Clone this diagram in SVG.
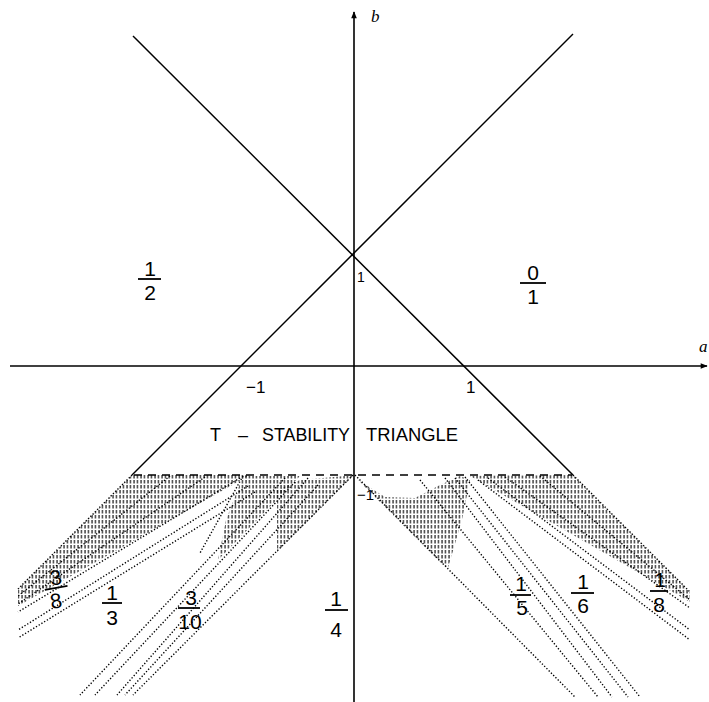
<svg xmlns="http://www.w3.org/2000/svg" width="709" height="702" viewBox="0 0 709 702">
<style>
.ax{stroke:#000;stroke-width:1.6;fill:none}
.ln{stroke:#000;stroke-width:1.5;fill:none}
.dash{stroke:#000;stroke-width:1.5;stroke-dasharray:8 6;fill:none}
.dot{stroke:#000;stroke-width:1.4;stroke-dasharray:1.3 1.9;fill:none}
.hat{fill:url(#hatch);stroke:none}
.t{font-family:"Liberation Sans",Arial,sans-serif;fill:#000}
.fr{font-family:"Liberation Sans",Arial,sans-serif;font-size:21px;fill:#000;text-anchor:middle}
.bar{stroke:#000;stroke-width:1.8}
.it{font-family:"Liberation Serif",serif;font-style:italic;font-size:17px;fill:#000}
</style>
<defs>
<pattern id="hatch" width="3.5" height="5" patternUnits="userSpaceOnUse">
<line x1="1" y1="0" x2="1" y2="3.4" stroke="#000" stroke-width="1.1"/>
</pattern>
<marker id="arr" viewBox="0 0 10 10" refX="9" refY="5" markerWidth="9" markerHeight="7" markerUnits="userSpaceOnUse" orient="auto">
<path d="M0,1 L10,5 L0,9 Z" fill="#000"/>
</marker>
</defs>
<rect width="709" height="702" fill="#fff"/>

<g id="axes">
<line class="ax" x1="354" y1="702" x2="354" y2="12" marker-end="url(#arr)"/>
<line class="ax" x1="10" y1="366" x2="707" y2="366" marker-end="url(#arr)"/>
<text class="it" x="371" y="22">b</text>
<text class="it" x="699" y="352">a</text>
</g>

<g id="boundary-lines">
<line class="ln" x1="133" y1="36" x2="573" y2="475"/>
<line class="ln" x1="573" y1="34" x2="132" y2="475"/>
<line class="dash" x1="134" y1="475" x2="572" y2="475"/>
</g>

<g id="hatched-regions">
<polygon class="hat" points="132,475 250,475 18,606 18,589"/>
<polygon class="hat" points="243,476 300,476 218,560 226,520"/>
<polygon class="hat" points="277,490 300,480 345,476 353,476 277,552"/>
<polygon class="hat" points="470,476 573,475 690,592 690,602"/>
<polygon class="hat" points="358,480 385,497 415,498 440,485 460,476 470,480 462,520 448,568 440,562"/>
</g>

<g id="fan-lines">
<line class="dot" x1="132" y1="475" x2="18" y2="589"/>
<line class="dot" x1="170" y1="476" x2="18" y2="596"/>
<line class="dot" x1="205" y1="477" x2="18" y2="604"/>
<line class="dot" x1="240" y1="478" x2="18" y2="612"/>
<line class="dot" x1="248" y1="486" x2="18" y2="630"/>
<line class="dot" x1="255" y1="492" x2="18" y2="638"/>
<line class="dot" x1="243" y1="476" x2="200" y2="553"/>
<line class="dot" x1="285" y1="478" x2="80" y2="695"/>
<line class="dot" x1="295" y1="482" x2="95" y2="695"/>
<line class="dot" x1="308" y1="478" x2="117" y2="695"/>
<line class="dot" x1="318" y1="485" x2="125" y2="695"/>
<line class="dot" x1="353" y1="475" x2="133" y2="695"/>
<line class="dot" x1="355" y1="475" x2="575" y2="697"/>
<line class="dot" x1="420" y1="480" x2="598" y2="697"/>
<line class="dot" x1="445" y1="478" x2="612" y2="697"/>
<line class="dot" x1="455" y1="478" x2="628" y2="697"/>
<line class="dot" x1="465" y1="477" x2="640" y2="697"/>
<line class="dot" x1="573" y1="475" x2="690" y2="592"/>
<line class="dot" x1="540" y1="476" x2="690" y2="600"/>
<line class="dot" x1="505" y1="477" x2="690" y2="608"/>
<line class="dot" x1="488" y1="478" x2="690" y2="630"/>
<line class="dot" x1="478" y1="480" x2="690" y2="640"/>
</g>

<g id="axis-labels">
<text class="t" x="357" y="282" font-size="14">1</text>
<text class="t" x="246" y="393" font-size="17">−1</text>
<text class="t" x="466" y="393" font-size="17">1</text>
<text class="t" x="357" y="500" font-size="15">−1</text>
</g>

<g id="triangle-label" class="t" font-size="18">
<text x="210" y="441">T</text>
<text x="238" y="441">–</text>
<text x="262" y="441" textLength="88" lengthAdjust="spacingAndGlyphs">STABILITY</text>
<text x="366" y="441" textLength="92" lengthAdjust="spacingAndGlyphs">TRIANGLE</text>
</g>

<g id="frac-1-2"><text class="fr" x="150" y="276">1</text><line class="bar" x1="138" y1="279" x2="161" y2="279"/><text class="fr" x="150" y="300">2</text></g>
<g id="frac-0-1"><text class="fr" x="533" y="280">0</text><line class="bar" x1="520" y1="283" x2="546" y2="283"/><text class="fr" x="533" y="304">1</text></g>
<g id="frac-3-8" transform="rotate(-10 56 590)"><text class="fr" x="58" y="585">3</text><line class="bar" x1="45" y1="588" x2="68" y2="588"/><text class="fr" x="54" y="608">8</text></g>
<g id="frac-1-3"><text class="fr" x="112" y="600">1</text><line class="bar" x1="102" y1="603" x2="122" y2="603"/><text class="fr" x="112" y="625">3</text></g>
<g id="frac-3-10"><text class="fr" x="191" y="605">3</text><line class="bar" x1="178" y1="608" x2="200" y2="608"/><text class="fr" x="190" y="629">10</text></g>
<g id="frac-1-4"><text class="fr" x="336" y="606">1</text><line class="bar" x1="325" y1="610" x2="348" y2="610"/><text class="fr" x="336" y="637" font-size="25">4</text></g>
<g id="frac-1-5"><text class="fr" x="521" y="591">1</text><line class="bar" x1="510" y1="595" x2="531" y2="595"/><text class="fr" x="522" y="615">5</text></g>
<g id="frac-1-6"><text class="fr" x="583" y="589">1</text><line class="bar" x1="571" y1="593" x2="594" y2="593"/><text class="fr" x="583" y="613">6</text></g>
<g id="frac-1-8"><text class="fr" x="660" y="587">1</text><line class="bar" x1="650" y1="591" x2="668" y2="591"/><text class="fr" x="659" y="612">8</text></g>
</svg>
